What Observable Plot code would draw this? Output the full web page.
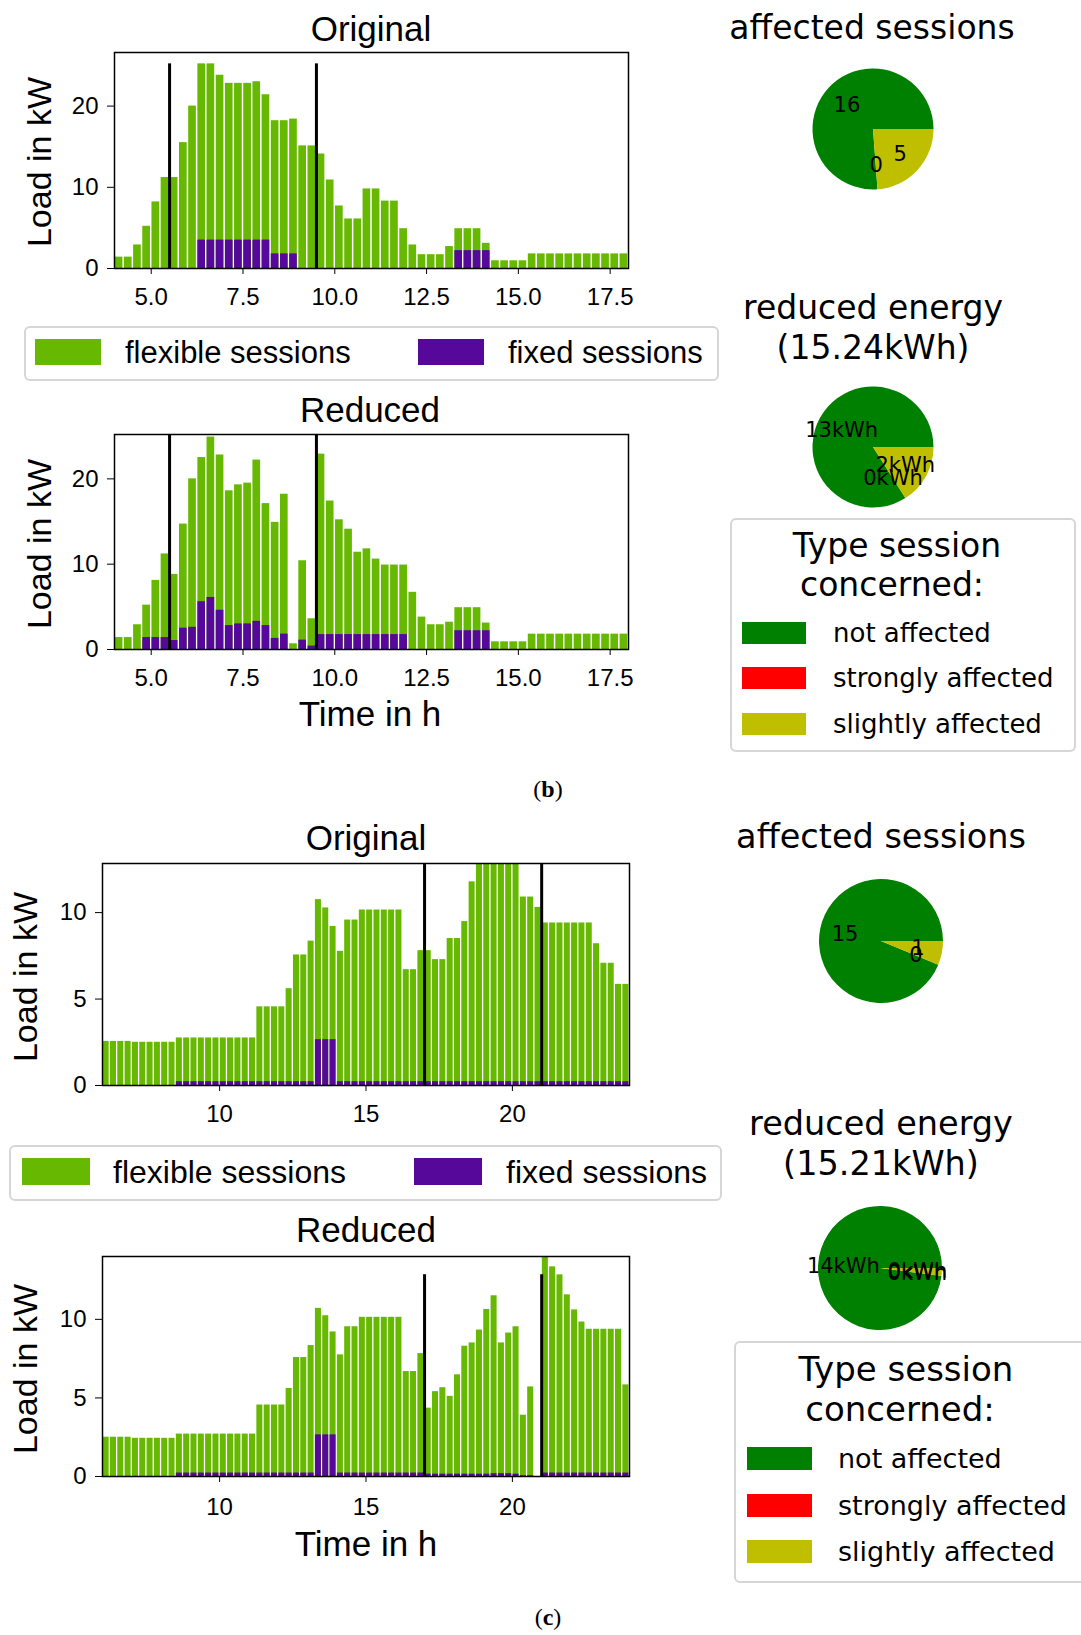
<!DOCTYPE html>
<html><head><meta charset="utf-8">
<script src="https://cdn.jsdelivr.net/npm/d3@7"></script>
<script src="https://cdn.jsdelivr.net/npm/@observablehq/plot@0.6"></script>
<style>
body{margin:0;background:#fff;}
#root{position:relative;width:1081px;height:1635px;overflow:hidden;background:#fff;}
#root svg{position:absolute;}
.box{position:absolute;border:2px solid #d6d6d6;border-radius:6px;background:#fff;box-sizing:border-box;}
.patch{position:absolute;}
</style></head>
<body><div id="root"></div>
<script>
// ---------------- DATA ----------------
// quarter-hour slot start times (h)
const slotsB = d3.range(4, 18, 0.25);   // 56 slots
const slotsC = d3.range(6, 24, 0.25);   // 72 slots

// (b) Original: total load (kW) and fixed-session load (kW)
const bOrigTotal = [1.4,1.4,2.9,5.2,8.2,11.2, 11.2,15.5,20.0,25.2,25.2,23.8, 22.8,22.8,22.8,23.0,21.4,18.2,
  18.2,18.4,15.1,15.1,14.1,10.9, 7.7,6.1,6.1,9.8,9.8,8.3, 8.3,4.9,2.9,1.7,1.7,1.7, 2.7,4.9,4.9,4.9,3.1,0.95,
  0.95,0.95,0.95,1.8,1.8,1.8, 1.8,1.8,1.8,1.8,1.8,1.8,1.8,1.8];
const bOrigFixed = [0,0,0,0,0,0,0,0,0, 3.5,3.5,3.5,3.5,3.5,3.5,3.5,3.5, 1.8,1.8,1.8,
  0,0,0,0,0,0,0,0,0,0,0,0,0,0,0,0,0, 2.2,2.2,2.2,2.2, 0,0,0,0,0,0,0,0,0,0,0,0,0,0,0];
// (b) Reduced
const bRedTotal = [1.4,1.4,2.9,5.2,8.1,11.2, 8.8,14.7,20.0,22.5,24.9,22.8, 18.6,19.3,19.5,22.2,17.1,14.9,
  18.2,0.67,10.4,3.6,22.9,17.4, 15.2,14.1,11.4,11.8,10.6,9.9, 9.9,9.9,6.7,3.8,2.9,2.9, 3.2,4.9,4.9,4.9,3.1,0.9,
  0.9,0.9,0.9,1.8,1.8,1.8, 1.8,1.8,1.8,1.8,1.8,1.8,1.8,1.8];
const bRedFixed = [0,0,0, 1.4,1.4,1.4, 1.05, 2.5,2.6,5.6,6.1,4.6, 2.8,3.0,3.0,3.3,2.8,1.3, 1.8,0,1.1,0.4,
  1.75,1.75,1.75,1.75,1.75,1.75,1.75,1.75,1.75,1.75, 0,0,0,0,0, 2.2,2.2,2.2,2.2, 0,0,0,0,0,0,0,0,0,0,0,0,0,0,0];
const bLines = [5.5, 9.5];
const bLineTop = 25.2;

// (c) Original
const cOrigTotal = [2.55,2.55,2.55,2.55, 2.5,2.5,2.5,2.5,2.5,2.5, 2.75,2.75,2.75,2.75,2.75,2.75,2.75,2.75,2.75,2.75,2.75,
  4.55,4.55,4.55,4.55, 5.6, 7.55,7.55, 8.35, 10.75, 10.27, 9.2, 7.76, 9.57,9.57, 10.15,10.15,10.15,10.15,10.15,10.15,
  6.7,6.7, 7.8,7.8, 7.28,7.28, 8.5,8.5, 9.48, 11.78, 12.84,12.84,12.84,12.84,12.84,12.84, 10.9,10.9, 10.3,
  9.4,9.4,9.4,9.4,9.4,9.4,9.4, 8.2, 7.07,7.07, 5.85,5.85];
const cOrigFixed = [0,0,0,0,0,0,0,0,0,0,
  0.22,0.22,0.22,0.22,0.22,0.22,0.22,0.22,0.22,0.22,0.22,0.22,0.22,0.22,0.22,0.22,0.22,0.22,0.22,
  2.65,2.65,2.65,
  0.22,0.22,0.22,0.22,0.22,0.22,0.22,0.22,0.22,0.22,0.22,0.22,0.22,0.22,0.22,0.22,0.22,0.22,0.22,0.22,
  0.22,0.22,0.22,0.22,0.22,0.22,0.22,0.22,0.22,0.22,0.22,0.22,0.22,0.22,0.22,0.22,0.22,0.22,0.22,0.22];
// (c) Reduced
const cRedTotal = [2.5,2.5,2.5,2.5, 2.43,2.43,2.43,2.43,2.43,2.43, 2.7,2.7,2.7,2.7,2.7,2.7,2.7,2.7,2.7,2.7,2.7,
  4.55,4.55,4.55,4.55, 5.6, 7.57,7.57, 8.33, 10.7, 10.23, 9.2, 7.74, 9.53,9.53, 10.13,10.13,10.13,10.13,10.13,10.13,
  6.68,6.68, 7.82, 4.35, 5.4, 5.65, 5.1, 6.47, 8.29, 8.5, 9.32, 10.63, 11.5, 8.5, 9.13, 9.53, 3.9, 5.7, 0,
  14.0, 13.34, 12.83, 11.56, 10.6, 9.83, 9.37,9.37,9.37,9.37,9.37, 5.83];
const cRedFixed = [0,0,0,0,0,0,0,0,0,0,
  0.22,0.22,0.22,0.22,0.22,0.22,0.22,0.22,0.22,0.22,0.22,0.22,0.22,0.22,0.22,0.22,0.22,0.22,0.22,
  2.65,2.65,2.65,
  0.22,0.22,0.22,0.22,0.22,0.22,0.22,0.22,0.22,0.22,0.22,0.22,
  0.15,0.15,0.15,0.15,0.15,0.15,0.15,0.15,0.15,0.18,0.18,0.18,0.15,
  0.05,0.05,0,
  0.22,0.22,0.22,0.22,0.22,0.22,0.22,0.22,0.22,0.22,0.22,0.22];
const cLines = [17, 21];
const cLineTop = 12.84;

// pies: not affected, strongly affected, slightly affected
const pieCategories = ["not affected", "strongly affected", "slightly affected"];
const bSessions = [16, 0, 5];
const bSessionLabels = ["16", "0", "5"];
const bEnergy = [12.8, 0, 2.44];
const bEnergyLabels = ["13kWh", "0kWh", "2kWh"];
const cSessions = [15, 0, 1];
const cSessionLabels = ["15", "0", "1"];
const cEnergy = [14.6, 0, 0.31];
const cEnergyLabels = ["14kWh", "0kWh", "0kWh"];

// ---------------- STYLE ----------------
const SANS = "'Liberation Sans', Arial, sans-serif";
const DEJA = "'DejaVu Sans', sans-serif";
const GREEN = "#66b800", PURPLE = "#56089a";
const PIE_COLORS = ["#008000", "#ff0000", "#bfbf00"];

const root = document.getElementById("root");

function place(node, left, top) {
  node.style.position = "absolute";
  node.style.left = left + "px";
  node.style.top = top + "px";
  root.appendChild(node);
}

function txt(s, x, y, size, {family = SANS, anchor = "middle", rotate = 0, html = false} = {}) {
  const d = document.createElement("div");
  d.style.cssText = `position:absolute;left:${x}px;top:${y}px;font-size:${size}px;line-height:1;white-space:nowrap;font-family:${family};color:#000;`;
  const tx = anchor === "middle" ? "-50%" : anchor === "start" ? "0" : "-100%";
  d.style.transform = `translate(${tx},-50%)` + (rotate ? ` rotate(${rotate}deg)` : "");
  if (html) d.innerHTML = s; else d.textContent = s;
  root.appendChild(d);
  return d;
}

function rect(x, y, w, h, cls, color) {
  const d = document.createElement("div");
  d.className = cls;
  d.style.cssText += `left:${x}px;top:${y}px;width:${w}px;height:${h}px;` + (color ? `background:${color};` : "");
  root.appendChild(d);
  return d;
}

function barChart({slots, total, fixed, lines, lineTop, yDomain, xDomain, xTicks, xFmt, yTicks, height, mL, mR, mT, mB, inset, padX}) {
  const rows = slots.map((t, i) => ({t, total: total[i], fixed: fixed[i]}));
  return Plot.plot({
    width: 660, height, marginLeft: mL, marginRight: mR, marginTop: mT, marginBottom: mB,
    style: {background: "none", fontFamily: SANS, fontSize: "24px", color: "black"},
    x: {domain: xDomain, ticks: xTicks, tickFormat: xFmt, tickSize: 6, tickPadding: padX, label: null},
    y: {domain: yDomain, ticks: yTicks, tickSize: 7, tickPadding: 9, label: null},
    marks: [
      Plot.rectY(rows, {x1: "t", x2: d => d.t + 0.25, y1: 0, y2: "total", fill: GREEN, insetLeft: inset, insetRight: inset}),
      Plot.rectY(rows.filter(d => d.fixed > 0), {x1: "t", x2: d => d.t + 0.25, y1: 0, y2: "fixed", fill: PURPLE, insetLeft: inset, insetRight: inset}),
      Plot.ruleX(lines, {x: d => d, y1: 0, y2: lineTop, stroke: "black", strokeWidth: 3}),
      Plot.frame({stroke: "black", strokeWidth: 1.5})
    ]
  });
}

function pieChart(values, labels, r, box, fontSize) {
  const total = d3.sum(values);
  let acc = 0;
  const slices = values.map((v, i) => { const a0 = acc; acc += v / total * 360; return {i, v, a0, a1: acc, label: labels[i]}; });
  const lab = slices.map(s => { const m = (s.a0 + s.a1) / 2 * Math.PI / 180; return {x: 0.6 * Math.cos(m), y: 0.6 * Math.sin(m), text: s.label}; });
  const half = box / 2 / r;
  const wedges = (index, scales, channels, dimensions) => {
    let cx, cy, rr;
    if (scales && typeof scales.x === "function") {
      cx = scales.x(0); cy = scales.y(0); rr = Math.abs(scales.x(1) - scales.x(0));
    } else { cx = dimensions.width / 2; cy = dimensions.height / 2; rr = r; }
    const g = d3.create("svg:g").attr("transform", `translate(${cx},${cy})`);
    for (const s of slices) {
      if (s.v <= 0) continue;
      // matplotlib: degrees counter-clockwise from east; d3.arc: clockwise from north
      const arc = d3.arc().innerRadius(0).outerRadius(rr)
        .startAngle((90 - s.a1) * Math.PI / 180).endAngle((90 - s.a0) * Math.PI / 180);
      g.append("path").attr("d", arc()).attr("fill", PIE_COLORS[s.i]);
    }
    return g.node();
  };
  return Plot.plot({
    width: box, height: box, margin: 0,
    x: {domain: [-half, half], axis: null},
    y: {domain: [-half, half], axis: null},
    style: {background: "none", fontFamily: DEJA, overflow: "visible"},
    marks: [
      wedges,
      Plot.text(lab, {x: "x", y: "y", text: "text", fontSize, fill: "black"})
    ]
  });
}

// ---------------- PANEL (b) ----------------
place(barChart({slots: slotsB, total: bOrigTotal, fixed: bOrigFixed, lines: bLines, lineTop: bLineTop,
  yDomain: [0, 26.6], xDomain: [4, 18], xTicks: [5, 7.5, 10, 12.5, 15, 17.5], xFmt: d3.format(".1f"), yTicks: [0, 10, 20],
  height: 330, mL: 114, mR: 32, mT: 52, mB: 62, inset: 0.75, padX: 13}), 0, 0);
place(barChart({slots: slotsB, total: bRedTotal, fixed: bRedFixed, lines: bLines, lineTop: bLineTop,
  yDomain: [0, 25.2], xDomain: [4, 18], xTicks: [5, 7.5, 10, 12.5, 15, 17.5], xFmt: d3.format(".1f"), yTicks: [0, 10, 20],
  height: 330, mL: 114, mR: 32, mT: 54, mB: 61, inset: 0.75, padX: 13}), 0, 380);

place(pieChart(bSessions, bSessionLabels, 60.5, 180, 21), 873 - 90, 129 - 90);
place(pieChart(bEnergy, bEnergyLabels, 60.5, 180, 21), 873 - 90, 447 - 90);

// ---------------- PANEL (c) ----------------
place(barChart({slots: slotsC, total: cOrigTotal, fixed: cOrigFixed, lines: cLines, lineTop: cLineTop,
  yDomain: [0, 12.84], xDomain: [6, 24], xTicks: [10, 15, 20], xFmt: d => d, yTicks: [0, 5, 10],
  height: 330, mL: 102, mR: 31, mT: 63, mB: 45, inset: 0.65, padX: 13}), 0, 800);
place(barChart({slots: slotsC, total: cRedTotal, fixed: cRedFixed, lines: cLines, lineTop: cLineTop,
  yDomain: [0, 14.0], xDomain: [6, 24], xTicks: [10, 15, 20], xFmt: d => d, yTicks: [0, 5, 10],
  height: 330, mL: 102, mR: 31, mT: 56, mB: 54, inset: 0.65, padX: 15}), 0, 1200);

place(pieChart(cSessions, cSessionLabels, 62, 180, 21), 881 - 90, 941 - 90);
place(pieChart(cEnergy, cEnergyLabels, 62, 180, 21), 880 - 90, 1268 - 90);

// ---------------- TEXT & LEGENDS ----------------
// (b) left
txt("Original", 371, 28, 35);
txt("Load in kW", 39, 162, 34, {rotate: -90});
rect(24, 326, 695, 55, "box");
rect(35, 339, 66, 26, "patch", GREEN);
txt("flexible sessions", 125, 352, 31, {anchor: "start"});
rect(418, 339, 66, 26, "patch", PURPLE);
txt("fixed sessions", 508, 352, 31, {anchor: "start"});
txt("Reduced", 370, 409, 35);
txt("Load in kW", 39, 544, 34, {rotate: -90});
txt("Time in h", 370, 713, 35);
txt("(<b>b</b>)", 548, 789, 24, {family: "'Liberation Serif', 'DejaVu Serif', serif", html: true});

// (b) right
txt("affected sessions", 872, 27, 33, {family: DEJA});
txt("reduced energy", 873, 307, 33, {family: DEJA});
txt("(15.24kWh)", 873, 347, 33, {family: DEJA});
rect(730, 518, 346, 234, "box");
txt("Type session", 897, 545, 33, {family: DEJA});
txt("concerned:", 892, 584, 33, {family: DEJA});
[633, 678, 724].forEach((cy, i) => {
  rect(742, cy - 11, 64, 22, "patch", PIE_COLORS[i]);
  txt(pieCategories[i], 833, cy, 26, {family: DEJA, anchor: "start"});
});

// (c) left
txt("Original", 366, 837, 35);
txt("Load in kW", 25, 977, 34, {rotate: -90});
rect(9, 1145, 713, 56, "box");
rect(22, 1158, 68, 27, "patch", GREEN);
txt("flexible sessions", 113, 1172, 32, {anchor: "start"});
rect(414, 1158, 68, 27, "patch", PURPLE);
txt("fixed sessions", 506, 1172, 32, {anchor: "start"});
txt("Reduced", 366, 1229, 35);
txt("Load in kW", 25, 1369, 34, {rotate: -90});
txt("Time in h", 366, 1543, 35);
txt("(<b>c</b>)", 548, 1617, 24, {family: "'Liberation Serif', 'DejaVu Serif', serif", html: true});

// (c) right
txt("affected sessions", 881, 837, 33.5, {family: DEJA});
txt("reduced energy", 881, 1124, 33.5, {family: DEJA});
txt("(15.21kWh)", 881, 1164, 33.5, {family: DEJA});
rect(734, 1341, 360, 242, "box");
txt("Type session", 906, 1369, 34, {family: DEJA});
txt("concerned:", 900, 1409, 34, {family: DEJA});
[1458, 1505, 1551].forEach((cy, i) => {
  rect(747, cy - 11, 65, 23, "patch", PIE_COLORS[i]);
  txt(pieCategories[i], 838, cy, 27, {family: DEJA, anchor: "start"});
});
</script>
</body></html>
